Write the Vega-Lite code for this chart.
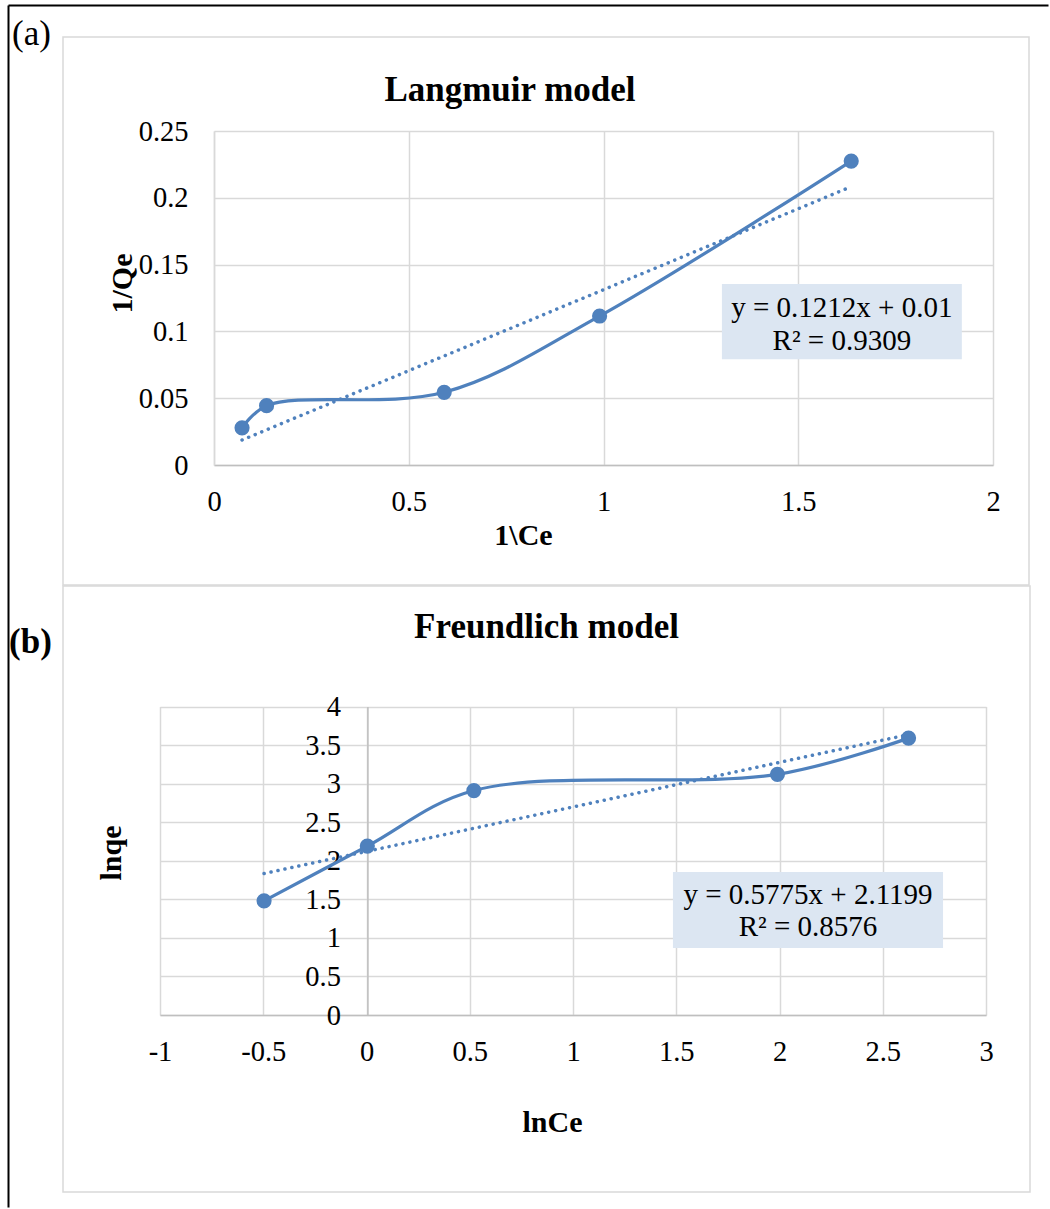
{
  "$schema": "https://vega.github.io/schema/vega-lite/v6.json",
  "padding": {"left": 7, "top": 4, "right": 0, "bottom": 0},
  "background": "white",
  "bounds": "flush",
  "spacing": 1,
  "config": {
    "view": {"stroke": "#D9D9D9", "strokeWidth": 1.5},
    "font": "Liberation Serif",
    "axis": {
      "labelFont": "Liberation Serif", "labelFontSize": 28.5, "labelColor": "#000000",
      "titleFont": "Liberation Serif", "titleFontSize": 30, "titleFontWeight": "bold", "titleColor": "#000000",
      "gridColor": "#D9D9D9", "gridWidth": 1.5, "ticks": false, "tickSize": 0,
      "domainColor": "#BFBFBF", "domainWidth": 1.5, "labelPadding": 22,
      "labelFlush": false, "labelOverlap": false, "labelBound": false
    },
    "title": {"font": "Liberation Serif", "fontSize": 35, "fontWeight": "bold", "color": "#000000"}
  },
  "datasets": {
    "lang": [
      {"x": 0.072, "y": 0.0278},
      {"x": 0.135, "y": 0.0444},
      {"x": 0.591, "y": 0.0544},
      {"x": 0.99, "y": 0.1115},
      {"x": 1.636, "y": 0.2275}
    ],
    "langTrend": [
      {"x": 0.072, "y": 0.0187},
      {"x": 1.636, "y": 0.2083}
    ],
    "langEq": [{"eq": "y = 0.1212x + 0.01", "r2": "R² = 0.9309"}],
    "freu": [
      {"x": -0.496, "y": 1.48},
      {"x": 0.004, "y": 2.19},
      {"x": 0.52, "y": 2.91},
      {"x": 1.99, "y": 3.12},
      {"x": 2.625, "y": 3.59}
    ],
    "freuTrend": [
      {"x": -0.496, "y": 1.834},
      {"x": 2.625, "y": 3.636}
    ],
    "freuEq": [{"eq": "y = 0.5775x + 2.1199", "r2": "R² = 0.8576"}]
  },
  "vconcat": [
    {
      "width": 966,
      "height": 548,
      "title": {"text": "Langmuir model", "anchor": "middle", "frame": "group", "baseline": "alphabetic", "offset": 0, "dx": -36, "dy": 131},
      "layer": [
        {
          "layer": [
            {
              "data": {"name": "langEq"},
              "mark": {"type": "rect", "fill": "#DCE6F2"},
              "encoding": {
                "x": {"datum": 1.304, "type": "quantitative"},
                "x2": {"datum": 1.92},
                "y": {"datum": 0.1355, "type": "quantitative"},
                "y2": {"datum": 0.0791}
              }
            },
            {
              "data": {"name": "langEq"},
              "mark": {"type": "text", "fontSize": 29, "font": "Liberation Serif", "color": "#000000", "align": "center", "baseline": "middle"},
              "encoding": {
                "x": {"datum": 1.612, "type": "quantitative"},
                "y": {"datum": 0.1173, "type": "quantitative"},
                "text": {"field": "eq"}
              }
            },
            {
              "data": {"name": "langEq"},
              "mark": {"type": "text", "fontSize": 29, "font": "Liberation Serif", "color": "#000000", "align": "center", "baseline": "middle"},
              "encoding": {
                "x": {"datum": 1.612, "type": "quantitative"},
                "y": {"datum": 0.093, "type": "quantitative"},
                "text": {"field": "r2"}
              }
            },
            {
              "data": {"name": "langTrend"},
              "mark": {"type": "line", "color": "#4F81BD", "strokeWidth": 3.5, "strokeDash": [0.1, 7], "strokeCap": "round"},
              "encoding": {
                "x": {"field": "x", "type": "quantitative"},
                "y": {"field": "y", "type": "quantitative"}
              }
            },
            {
              "data": {"name": "lang"},
              "mark": {"type": "line", "interpolate": "catmull-rom", "color": "#4F81BD", "strokeWidth": 3.2},
              "encoding": {
                "x": {
                  "field": "x", "type": "quantitative",
                  "scale": {"domain": [0, 2], "range": [151, 930], "zero": false, "nice": false},
                  "axis": {
                    "orient": "top", "offset": -428, "values": [0, 0.5, 1, 1.5, 2],
                    "labelExpr": "'' + datum.value", "grid": true,
                    "labelBaseline": "top", "labelPadding": -22,
                    "title": "1\\Ce", "titleX": 460, "titleY": 70, "titleBaseline": "middle", "titleAlign": "center", "titleAngle": 0
                  }
                },
                "y": {
                  "field": "y", "type": "quantitative",
                  "scale": {"domain": [0, 0.25], "range": [428, 94], "zero": false, "nice": false},
                  "axis": {
                    "orient": "left", "offset": -151, "values": [0, 0.05, 0.1, 0.15, 0.2, 0.25],
                    "labelExpr": "'' + datum.value", "grid": true, "labelPadding": 26, "domainColor": "#D9D9D9",
                    "title": "1/Qe", "titleX": -92, "titleY": 246, "titleAngle": -90, "titleBaseline": "middle", "titleAlign": "center"
                  }
                }
              }
            },
            {
              "data": {"name": "lang"},
              "mark": {"type": "point", "filled": true, "size": 230, "opacity": 1, "color": "#4F81BD"},
              "encoding": {
                "x": {"field": "x", "type": "quantitative"},
                "y": {"field": "y", "type": "quantitative"}
              }
            }
          ]
        },
        {
          "data": {"name": "lang"},
          "mark": {"type": "point", "opacity": 0},
          "encoding": {
            "x": {
              "field": "x", "type": "quantitative",
              "scale": {"domain": [0, 1], "range": [-55, 985], "zero": false, "nice": false},
              "axis": {
                "orient": "top", "offset": 32, "domainColor": "#000000", "domainWidth": 2,
                "labels": false, "ticks": false, "grid": false,
                "title": "(a)", "titleFontWeight": "normal", "titleFontSize": 35,
                "titleX": -32, "titleY": 28, "titleAngle": 0, "titleBaseline": "middle", "titleAlign": "center"
              }
            },
            "y": {
              "field": "y", "type": "quantitative",
              "scale": {"domain": [0, 1], "range": [1170, -32], "zero": false, "nice": false},
              "axis": {
                "orient": "left", "offset": 55, "domainColor": "#000000", "domainWidth": 2,
                "labels": false, "ticks": false, "grid": false,
                "title": "(b)", "titleFontWeight": "bold", "titleFontSize": 35,
                "titleX": 22, "titleY": 604, "titleAngle": 0, "titleBaseline": "middle", "titleAlign": "center"
              }
            }
          }
        }
      ],
      "resolve": {
        "scale": {"x": "independent", "y": "independent"},
        "axis": {"x": "independent", "y": "independent"}
      }
    },
    {
      "width": 967,
      "height": 606,
      "title": {"text": "Freundlich model", "anchor": "middle", "frame": "group", "baseline": "alphabetic", "offset": 0, "dy": 87},
      "layer": [
        {
          "data": {"name": "freuEq"},
          "mark": {"type": "rect", "fill": "#DCE6F2"},
          "encoding": {
            "x": {"datum": 1.484, "type": "quantitative"},
            "x2": {"datum": 2.792},
            "y": {"datum": 1.855, "type": "quantitative"},
            "y2": {"datum": 0.869}
          }
        },
        {
          "data": {"name": "freuEq"},
          "mark": {"type": "text", "fontSize": 29, "font": "Liberation Serif", "color": "#000000", "align": "center", "baseline": "middle"},
          "encoding": {
            "x": {"datum": 2.138, "type": "quantitative"},
            "y": {"datum": 1.556, "type": "quantitative"},
            "text": {"field": "eq"}
          }
        },
        {
          "data": {"name": "freuEq"},
          "mark": {"type": "text", "fontSize": 29, "font": "Liberation Serif", "color": "#000000", "align": "center", "baseline": "middle"},
          "encoding": {
            "x": {"datum": 2.138, "type": "quantitative"},
            "y": {"datum": 1.141, "type": "quantitative"},
            "text": {"field": "r2"}
          }
        },
        {
          "data": {"name": "freuTrend"},
          "mark": {"type": "line", "color": "#4F81BD", "strokeWidth": 3.5, "strokeDash": [0.1, 7], "strokeCap": "round"},
          "encoding": {
            "x": {"field": "x", "type": "quantitative"},
            "y": {"field": "y", "type": "quantitative"}
          }
        },
        {
          "data": {"name": "freu"},
          "mark": {"type": "line", "interpolate": "catmull-rom", "color": "#4F81BD", "strokeWidth": 3.2},
          "encoding": {
            "x": {
              "field": "x", "type": "quantitative",
              "scale": {"domain": [-1, 3], "range": [97, 923], "zero": false, "nice": false},
              "axis": {
                "orient": "top", "offset": -429, "values": [-1, -0.5, 0, 0.5, 1, 1.5, 2, 2.5, 3],
                "labelExpr": "'' + datum.value", "grid": true,
                "labelBaseline": "top", "labelPadding": -22,
                "title": "lnCe", "titleX": 489, "titleY": 107, "titleBaseline": "middle", "titleAlign": "center", "titleAngle": 0
              }
            },
            "y": {
              "field": "y", "type": "quantitative",
              "scale": {"domain": [0, 4], "range": [429, 120.5], "zero": false, "nice": false},
              "axis": {
                "orient": "left", "offset": -304.4, "values": [0, 0.5, 1, 1.5, 2, 2.5, 3, 3.5, 4],
                "labelExpr": "'' + datum.value", "grid": true, "labelPadding": 27,
                "title": "lnqe", "titleX": -255.6, "titleY": 266.5, "titleAngle": -90, "titleBaseline": "middle", "titleAlign": "center"
              }
            }
          }
        },
        {
          "data": {"name": "freu"},
          "mark": {"type": "point", "filled": true, "size": 230, "opacity": 1, "color": "#4F81BD"},
          "encoding": {
            "x": {"field": "x", "type": "quantitative"},
            "y": {"field": "y", "type": "quantitative"}
          }
        }
      ]
    }
  ]
}
